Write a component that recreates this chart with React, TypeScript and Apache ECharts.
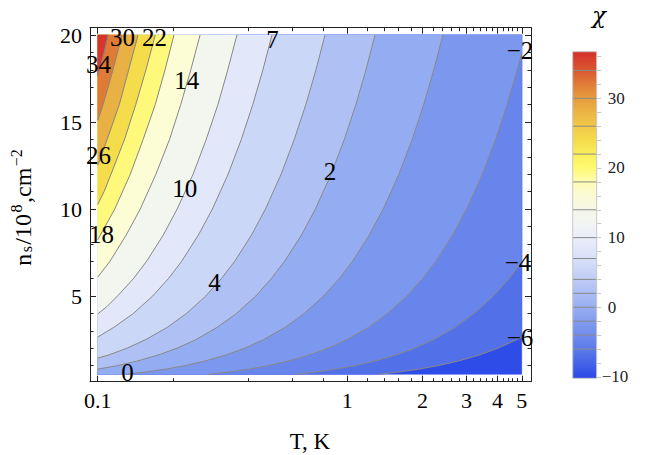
import React, { useEffect, useRef } from "react";
import * as echarts from "echarts";

const FONT = '"Liberation Serif", "Times New Roman", serif';
const GREEK_FONT = '"DejaVu Serif", "Liberation Serif", serif';

// data box of the contour plot (T in K, n_s in 10^8 cm^-2)
const T_RANGE = [0.1, 5];
const N_RANGE = [0.5, 20];
// frame range
const T_AXIS = [0.0931, 5.445];
const N_AXIS = [0.075, 20.42];

// contour levels and the colour of the region above each level (first = below lowest)
const LEVELS = [-6, -4, -2, 0, 2, 4, 7, 10, 14, 18, 22, 26, 30, 34];
const BAND_COLORS = [
  "#2e4ce7", "#5271e9", "#6785eb", "#7c97ee", "#94acf1", "#afc0f4", "#cbd7f7",
  "#e2e7fa", "#f3f6ef", "#fcfcd5", "#fef97b", "#f5dc4b", "#e9b043", "#e07b35", "#d5352b",
];

// contour lines, [T, n]
const C_M6 = [[5, 2.64], [4.789, 2.5], [4.011, 2], [3.36, 1.6], [2.762, 1.25], [2.313, 1], [1.938, 0.8], [1.643, 0.65], [1.334, 0.5]];
const C_M4 = [[5, 6.95], [4.449, 6], [3.849, 5], [3.224, 4], [2.701, 3.2], [2.22, 2.5], [1.86, 2], [1.558, 1.6], [1.28, 1.25], [1.073, 1], [0.898, 0.8], [0.762, 0.65], [0.619, 0.5]];
const C_M2 = [[5, 18.97], [4.796, 18], [4.368, 16], [3.928, 14], [3.476, 12], [3.007, 10], [2.643, 8.5], [2.266, 7], [2.005, 6], [1.735, 5], [1.453, 4], [1.217, 3.2], [1.0, 2.5], [0.838, 2], [0.702, 1.6], [0.577, 1.25], [0.483, 1], [0.405, 0.8], [0.343, 0.65], [0.279, 0.5]];
const C_0 = [[2.416, 20], [2.222, 18], [2.023, 16], [1.82, 14], [1.61, 12], [1.393, 10], [1.224, 8.5], [1.05, 7], [0.929, 6], [0.804, 5], [0.673, 4], [0.564, 3.2], [0.463, 2.5], [0.388, 2], [0.325, 1.6], [0.267, 1.25], [0.224, 1], [0.188, 0.8], [0.159, 0.65], [0.129, 0.5]];
const C_2 = [[1.291, 20], [1.188, 18], [1.082, 16], [0.973, 14], [0.861, 12], [0.745, 10], [0.655, 8.5], [0.561, 7], [0.496, 6], [0.43, 5], [0.36, 4], [0.301, 3.2], [0.248, 2.5], [0.208, 2], [0.174, 1.6], [0.143, 1.25], [0.12, 1], [0.11, 0.9], [0.1, 0.8]];
const C_4 = [[0.814, 20], [0.749, 18], [0.682, 16], [0.613, 14], [0.543, 12], [0.47, 10], [0.413, 8.5], [0.354, 7], [0.313, 6], [0.271, 5], [0.227, 4], [0.19, 3.2], [0.156, 2.5], [0.131, 2], [0.11, 1.6], [0.1, 1.43]];
const C_7 = [[0.499, 20], [0.459, 18], [0.418, 16], [0.376, 14], [0.333, 12], [0.288, 10], [0.253, 8.5], [0.217, 7], [0.192, 6], [0.166, 5], [0.139, 4], [0.116, 3.2], [0.1, 2.64]];
const C_10 = [[0.361, 20], [0.332, 18], [0.303, 16], [0.272, 14], [0.241, 12], [0.208, 10], [0.183, 8.5], [0.157, 7], [0.139, 6], [0.12, 5], [0.109, 4.4], [0.1, 3.97]];
const C_14 = [[0.257, 20], [0.236, 18], [0.215, 16], [0.194, 14], [0.171, 12], [0.148, 10], [0.13, 8.5], [0.112, 7], [0.1, 6.09]];
const C_18 = [[0.202, 20], [0.186, 18], [0.17, 16], [0.152, 14], [0.135, 12], [0.117, 10], [0.107, 9], [0.1, 8.23]];
const C_22 = [[0.17, 20], [0.156, 18], [0.142, 16], [0.128, 14], [0.113, 12], [0.106, 11], [0.1, 10.26]];
const C_26 = [[0.145, 20], [0.133, 18], [0.122, 16], [0.109, 14], [0.103, 13], [0.1, 12.52]];
const C_30 = [[0.125, 20], [0.12, 19], [0.115, 18], [0.11, 17], [0.105, 16], [0.1, 15.1]];
const C_34 = [[0.11, 20], [0.106, 19], [0.1015, 18], [0.1, 17.66]];
const CONTOURS = [C_M6, C_M4, C_M2, C_0, C_2, C_4, C_7, C_10, C_14, C_18, C_22, C_26, C_30, C_34];

// contour labels [T, n, text]
const CONTOUR_LABELS: [number, number, string][] = [
  [0.1007, 18.28, "34"], [0.1257, 19.83, "30"], [0.1007, 13.05, "26"], [0.1689, 19.83, "22"],
  [0.1035, 8.56, "18"], [0.2273, 17.36, "14"], [0.2232, 11.15, "10"], [0.5015, 19.74, "7"],
  [0.2938, 5.75, "4"], [0.8525, 12.13, "2"], [0.1316, 0.6, "0"], [4.92, 19.11, "−2"],
  [4.83, 6.93, "−4"], [4.92, 2.59, "−6"],
];

// axis ticks
const X_MAJOR = [0.1, 1, 2, 3, 4, 5];
const X_LABELS = ["0.1", "1", "2", "3", "4", "5"];
const X_MINOR = [0.2, 0.4, 0.6, 0.8, 1.2, 1.4, 1.6, 1.8, 2.2, 2.4, 2.6, 2.8, 3.2, 3.4, 3.6, 3.8, 4.2, 4.4, 4.6, 4.8];
const Y_MAJOR = [5, 10, 15, 20];
const Y_MINOR = [1, 2, 3, 4, 6, 7, 8, 9, 11, 12, 13, 14, 16, 17, 18, 19];

// colour bar
const BAR_RANGE = [-10.2, 36.7];
const BAR_LABELS = [-10, 0, 10, 20, 30];
const BAR_TICKS = [-10, -8, -6, -4, -2, 0, 2, 4, 6, 8, 10, 12, 14, 16, 18, 20, 22, 24, 26, 28, 30, 32, 34, 36];
const BAR_STOPS: [number, string][] = [
  [36.7, "#d42f2a"], [34, "#da5830"], [32, "#e07c38"], [30, "#e69c3e"], [28, "#ebb444"],
  [26, "#f0c848"], [24, "#f5dc4c"], [22, "#faee5c"], [20, "#fffa72"], [18, "#fdfcb4"],
  [16, "#fafad6"], [14, "#f6f7e8"], [12, "#f2f4f4"], [10, "#eaedfa"], [8, "#dee5f9"],
  [6, "#d0daf7"], [4, "#bfcbf5"], [2, "#acbdf3"], [0, "#98aef1"], [-2, "#849def"],
  [-4, "#708ced"], [-6, "#5c7bea"], [-8, "#4564e8"], [-10.2, "#2c48e6"],
];

const YLABEL_PARTS: [string, string][] = [["n", "main"], ["s", "sub"], ["/10", "main"], ["8", "sup"], [",cm", "main"], ["−2", "sup"]];

const lg = (t: number) => Math.log10(t);
const AXIS_COLOR = "#222";

function regionAbove(line: number[][]) {
  const pts = line.slice();
  const first = line[0];
  const last = line[line.length - 1];
  if (last[1] <= N_RANGE[0] + 1e-9) pts.push([T_RANGE[0], N_RANGE[0]]);
  pts.push([T_RANGE[0], N_RANGE[1]]);
  if (first[0] >= T_RANGE[1] - 1e-9) pts.push([T_RANGE[1], N_RANGE[1]]);
  return pts;
}

function measure(text: string, size: number) {
  const ctx = document.createElement("canvas").getContext("2d")!;
  ctx.font = `${size}px ${FONT}`;
  return ctx.measureText(text).width;
}

function txt(text: string, size: number, align = "center", family = FONT, italic = false) {
  return {
    text,
    fontSize: size,
    fontFamily: family,
    fontStyle: italic ? "italic" : "normal",
    fill: "#000",
    align,
    verticalAlign: "middle",
  };
}

function xAxis(position: string, ticks: number[], len: number, showLine: boolean, showLabel: boolean) {
  return {
    type: "value", gridIndex: 0, position,
    min: lg(T_AXIS[0]), max: lg(T_AXIS[1]),
    axisLine: { show: showLine, onZero: false, lineStyle: { color: AXIS_COLOR, width: 1 } },
    axisTick: { show: true, inside: true, length: len, customValues: ticks.map(lg), lineStyle: { color: AXIS_COLOR, width: 1 } },
    axisLabel: showLabel
      ? {
          show: true, customValues: X_MAJOR.map(lg), margin: 8, fontSize: 22, fontFamily: FONT, color: "#000",
          formatter: (v: number) => {
            const i = X_MAJOR.findIndex((t) => Math.abs(lg(t) - v) < 1e-6);
            return i >= 0 ? X_LABELS[i] : "";
          },
        }
      : { show: false },
    splitLine: { show: false },
  };
}

function yAxis(position: string, ticks: number[], len: number, showLine: boolean, showLabel: boolean) {
  return {
    type: "value", gridIndex: 0, position,
    min: N_AXIS[0], max: N_AXIS[1],
    axisLine: { show: showLine, onZero: false, lineStyle: { color: AXIS_COLOR, width: 1 } },
    axisTick: { show: true, inside: true, length: len, customValues: ticks, lineStyle: { color: AXIS_COLOR, width: 1 } },
    axisLabel: showLabel
      ? { show: true, customValues: Y_MAJOR, margin: 8, fontSize: 22, fontFamily: FONT, color: "#000", formatter: (v: number) => String(v) }
      : { show: false },
    splitLine: { show: false },
  };
}

function buildOption() {
  const mainSize = 24;
  const smallSize = 16;
  const gap = 1.5;
  const parts = YLABEL_PARTS.map(([t, kind]) => {
    const size = kind === "main" ? mainSize : smallSize;
    return { t, kind, size, w: measure(t, size) };
  });
  const total = parts.reduce((s, p) => s + p.w, 0) + gap * (parts.length - 1);
  let cx = -total / 2;
  const yChildren = parts.map((p) => {
    const el = {
      type: "text", x: cx, y: p.kind === "sub" ? 4 : p.kind === "sup" ? -6.5 : 0,
      style: txt(p.t, p.size, "left"),
    };
    cx += p.w + gap;
    return el;
  });

  const barSpan = BAR_RANGE[1] - BAR_RANGE[0];

  return {
    animation: false,
    backgroundColor: "#fff",
    grid: [
      { left: 90, top: 27.7, width: 441, height: 354 },
      { left: 572.7, top: 51.7, width: 24, height: 326.6 },
    ],
    xAxis: [
      xAxis("bottom", X_MAJOR, 6, true, true),
      xAxis("bottom", X_MINOR, 3.5, false, false),
      xAxis("top", X_MAJOR, 6, true, false),
      xAxis("top", X_MINOR, 3.5, false, false),
      { type: "value", gridIndex: 1, min: 0, max: 1, show: false },
    ],
    yAxis: [
      yAxis("left", Y_MAJOR, 6, true, true),
      yAxis("left", Y_MINOR, 3.5, false, false),
      yAxis("right", Y_MAJOR, 6, true, false),
      yAxis("right", Y_MINOR, 3.5, false, false),
      {
        type: "value", gridIndex: 1, position: "right", min: BAR_RANGE[0], max: BAR_RANGE[1],
        axisLine: { show: false, onZero: false },
        axisTick: { show: true, length: 4.5, customValues: BAR_TICKS, lineStyle: { color: "#c8c8c8", width: 1 } },
        axisLabel: {
          customValues: BAR_LABELS.filter((v) => v >= 0), margin: 11, fontSize: 17, fontFamily: FONT, color: "#222",
          formatter: (v: number) => String(v),
        },
        splitLine: { show: false },
      },
      {
        type: "value", gridIndex: 1, position: "right", min: BAR_RANGE[0], max: BAR_RANGE[1],
        axisLine: { show: false, onZero: false },
        axisTick: { show: false },
        axisLabel: {
          customValues: BAR_LABELS.filter((v) => v < 0), margin: 5, fontSize: 17, fontFamily: FONT, color: "#222",
          formatter: (v: number) => "−" + Math.abs(v),
        },
        splitLine: { show: false },
      },
    ],
    series: [
      {
        type: "custom", xAxisIndex: 0, yAxisIndex: 0, z: 1, silent: true,
        data: BAND_COLORS.map((_, i) => [i]),
        renderItem: (params: any, api: any) => {
          const i = params.dataIndex;
          const pts =
            i === 0
              ? [[T_RANGE[0], N_RANGE[0]], [T_RANGE[1], N_RANGE[0]], [T_RANGE[1], N_RANGE[1]], [T_RANGE[0], N_RANGE[1]]]
              : regionAbove(CONTOURS[i - 1]);
          return {
            type: "polygon",
            shape: { points: pts.map((p) => api.coord([lg(p[0]), p[1]])) },
            style: { fill: BAND_COLORS[i], stroke: BAND_COLORS[i], lineWidth: 0.5 },
          };
        },
      },
      {
        type: "custom", xAxisIndex: 0, yAxisIndex: 0, z: 2, silent: true,
        data: CONTOURS.map((_, i) => [i]),
        renderItem: (params: any, api: any) => {
          const line = CONTOURS[params.dataIndex];
          return {
            type: "polyline",
            shape: { points: line.map((p) => api.coord([lg(p[0]), p[1]])) },
            style: { stroke: "#878787", lineWidth: 1, fill: "none" },
          };
        },
      },
      {
        type: "custom", xAxisIndex: 0, yAxisIndex: 0, z: 3, silent: true,
        data: CONTOUR_LABELS.map((_, i) => [i]),
        renderItem: (params: any, api: any) => {
          const [t, n, s] = CONTOUR_LABELS[params.dataIndex];
          const p = api.coord([lg(t), n]);
          return { type: "text", x: p[0], y: p[1], style: txt(s, 25) };
        },
      },
      {
        type: "custom", xAxisIndex: 4, yAxisIndex: 4, z: 2, silent: true,
        data: [[0]],
        renderItem: (params: any, api: any) => {
          const tl = api.coord([0, BAR_RANGE[1]]);
          const br = api.coord([1, BAR_RANGE[0]]);
          const stops = BAR_STOPS.map(([v, c]) => ({ offset: (BAR_RANGE[1] - v) / barSpan, color: c }));
          const children: any[] = [
            {
              type: "rect",
              shape: { x: tl[0], y: tl[1], width: br[0] - tl[0], height: br[1] - tl[1] },
              style: { fill: new echarts.graphic.LinearGradient(0, 0, 0, 1, stops) },
            },
          ];
          LEVELS.forEach((l) => {
            const p = api.coord([0, l]);
            children.push({
              type: "line",
              shape: { x1: tl[0], y1: p[1], x2: br[0], y2: p[1] },
              style: { stroke: "#8a8a8a", lineWidth: 1 },
            });
          });
          children.push({
            type: "rect",
            shape: { x: tl[0], y: tl[1], width: br[0] - tl[0], height: br[1] - tl[1] },
            style: { fill: "none", stroke: "#c8c8c8", lineWidth: 1 },
          });
          return { type: "group", children };
        },
      },
    ],
    graphic: [
      { type: "group", x: 22.5, y: 207.5, rotation: Math.PI / 2, children: yChildren },
      { type: "text", x: 310, y: 441, style: txt("T, K", 23) },
      { type: "text", x: 599, y: 15, style: txt("χ", 23, "center", GREEK_FONT, true) },
    ],
  };
}

export default function App() {
  const ref = useRef<HTMLDivElement>(null);
  useEffect(() => {
    const chart = echarts.init(ref.current!, null, { renderer: "svg" });
    chart.setOption(buildOption() as any);
    return () => chart.dispose();
  }, []);
  return (
    <div
      ref={ref}
      style={{ position: "fixed", left: 0, top: 0, width: 651, height: 455, background: "#fff" }}
    />
  );
}
